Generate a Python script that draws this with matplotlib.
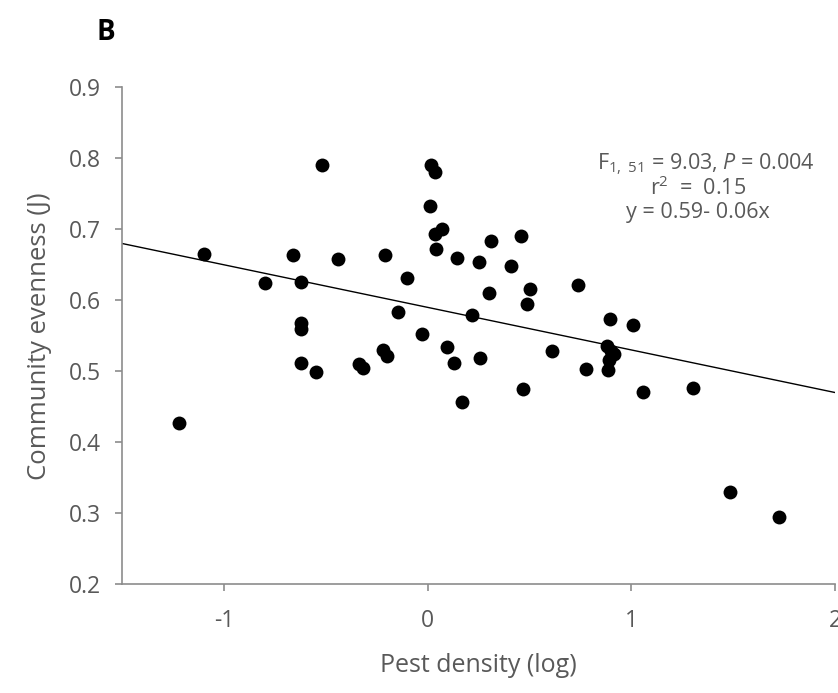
import matplotlib
matplotlib.use("Agg")
import matplotlib.pyplot as plt
import numpy as np

plt.rcParams['font.family'] = ['Open Sans', 'DejaVu Sans']
plt.rcParams['mathtext.fontset'] = 'custom'
plt.rcParams['mathtext.rm'] = 'Open Sans'
plt.rcParams['mathtext.it'] = 'Open Sans:italic'

# Pest density (log) vs community evenness (J)
pest_density = [-1.22, -1.10, -0.80, -0.66, -0.62, -0.62, -0.62, -0.62, -0.55, -0.52,
                -0.44, -0.335, -0.315, -0.22, -0.20, -0.21, -0.146, -0.10, -0.03, 0.013,
                0.018, 0.034, 0.034, 0.070, 0.043, 0.097, 0.128, 0.146, 0.169, 0.218,
                0.251, 0.256, 0.302, 0.310, 0.409, 0.457, 0.470, 0.489, 0.502, 0.609,
                0.736, 0.778, 0.880, 0.913, 0.888, 0.883, 0.900, 0.897, 1.008, 1.056,
                1.302, 1.484, 1.723]
evenness = [0.427, 0.665, 0.624, 0.664, 0.626, 0.568, 0.559, 0.511, 0.499, 0.790,
            0.658, 0.510, 0.505, 0.530, 0.522, 0.664, 0.583, 0.632, 0.552, 0.733,
            0.791, 0.780, 0.694, 0.700, 0.672, 0.534, 0.511, 0.659, 0.456, 0.579,
            0.654, 0.518, 0.610, 0.683, 0.648, 0.691, 0.475, 0.595, 0.616, 0.528,
            0.622, 0.503, 0.535, 0.525, 0.516, 0.502, 0.528, 0.573, 0.565, 0.471,
            0.476, 0.330, 0.295]

intercept = 0.59
slope = -0.06
x_ticks = [-1, 0, 1, 2]
y_ticks = [0.2, 0.3, 0.4, 0.5, 0.6, 0.7, 0.8, 0.9]

grey = '#595959'
spine_grey = '#8c8c8c'

fig = plt.figure(figsize=(8.38, 6.93), dpi=100)
ax = fig.add_axes([0.1456, 0.157, 0.851, 0.717])

ax.scatter(pest_density, evenness, s=100, color='black', zorder=3, linewidths=0)

xl = np.array([-1.5, 2.0])
ax.plot(xl, intercept + slope * xl, color='black', lw=1.0, zorder=2)

ax.set_xlim(-1.5, 2)
ax.set_ylim(0.2, 0.9)
ax.set_xticks(x_ticks)
ax.set_xticklabels([str(t) for t in x_ticks])
ax.set_yticks(y_ticks)
ax.set_yticklabels(['%.1f' % t for t in y_ticks])

for s in ['top', 'right']:
    ax.spines[s].set_visible(False)
for s in ['left', 'bottom']:
    ax.spines[s].set_color(spine_grey)
    ax.spines[s].set_linewidth(1.2)

ax.tick_params(axis='both', colors=spine_grey, labelcolor=grey, labelsize=16.5,
               direction='out', length=5, width=1.2)
ax.tick_params(axis='x', pad=13)
ax.tick_params(axis='y', pad=10)

ax.set_xlabel('Pest density (log)', fontsize=18, color=grey, labelpad=14)
ax.set_ylabel('Community evenness (J)', fontsize=18.5, color=grey, labelpad=12)

fig.text(96 / 838, 1 - 32 / 693, 'B', fontsize=20, fontweight='bold',
         color='black', va='center', ha='left')

cx = 706 / 838
fig.text(cx, 1 - 164 / 693, r'F$_{1,\ 51}$ = 9.03, $\mathit{P}$ = 0.004',
         fontsize=15.5, color=grey, ha='center', va='center')
fig.text(cx - 8 / 838, 1 - 188 / 693, r'r$^{2}$  =  0.15',
         fontsize=15.5, color=grey, ha='center', va='center')
fig.text(cx - 8 / 838, 1 - 213 / 693, 'y = 0.59- 0.06x',
         fontsize=15.5, color=grey, ha='center', va='center')

fig.savefig('out.png', dpi=100, facecolor='white')
plt.close(fig)
